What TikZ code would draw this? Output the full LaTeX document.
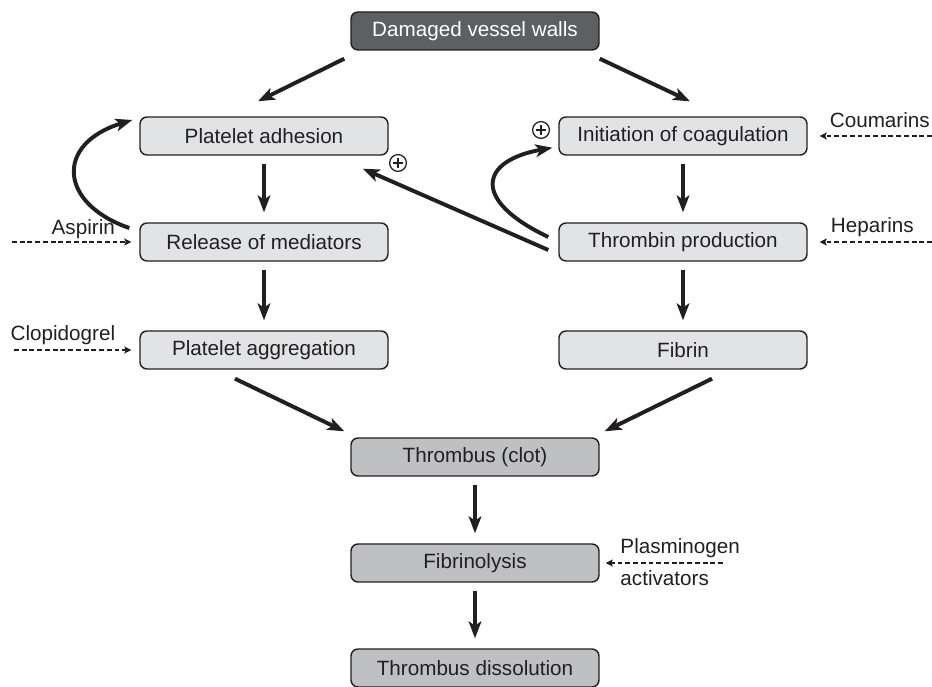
\documentclass[tikz,border=0pt]{standalone}
\usepackage{fontspec}
\setmainfont{Liberation Sans}
\usetikzlibrary{arrows.meta,calc}
\definecolor{clotdark}{HTML}{5E5F61}
\definecolor{clotlight}{HTML}{E2E3E4}
\definecolor{clotmid}{HTML}{BFC0C2}
\definecolor{clotink}{HTML}{231F20}

\begin{document}
\begin{tikzpicture}[
    font=\fontsize{14.7}{17}\selectfont,
    stage/.style={
        draw=clotink,
        fill=clotlight,
        text=clotink,
        rounded corners=5pt,
        minimum width=6.2cm,
        minimum height=0.95cm,
        line width=1pt
    },
    source/.style={stage,fill=clotdark,text=white},
    outcome/.style={stage,fill=clotmid},
    flow/.style={-{Stealth[length=12pt,width=9pt,inset=3pt]},line width=2.8pt,clotink},
    down/.style={flow,shorten <=0.2cm,shorten >=0.25cm},
    drug/.style={-{Stealth[length=5pt,width=5pt,inset=1pt]},line width=1.5pt,
        dash pattern=on 3.5pt off 2pt,clotink},
    druglabel/.style={inner sep=0pt,anchor=base,text=clotink},
    plus/.style={
        circle,
        draw=clotink,
        line width=0.9pt,
        minimum size=0.42cm,
        inner sep=0pt,
        path picture={
            \draw[clotink,line width=0.9pt]
                ([xshift=-0.13cm]path picture bounding box.center) -- ++(0.26,0)
                ([yshift=-0.13cm]path picture bounding box.center) -- ++(0,0.26);
        }
    }
]
\useasboundingbox (0,0) rectangle (23.3,17.15);

% Injury
\node[source] (damaged) at (11.875,16.375) {Damaged vessel walls};

% Platelet branch
\node[stage] (adhesion) at (6.6,13.75) {Platelet adhesion};
\node[stage] (release) at (6.6,11.1) {Release of mediators};
\node[stage] (aggregation) at (6.6,8.4) {Platelet aggregation};

% Coagulation branch
\node[stage] (init) at (17.075,13.75) {Initiation of coagulation};
\node[stage] (thrombin) at (17.075,11.1) {Thrombin production};
\node[stage] (fibrin) at (17.075,8.4) {Fibrin};

% Clot and its removal
\node[outcome] (clot) at (11.875,5.725) {Thrombus (clot)};
\node[outcome] (lysis) at (11.875,3.075) {Fibrinolysis};
\node[outcome] (dissolution) at (11.875,0.45) {Thrombus dissolution};

% Main flow
\draw[flow] ([shift={(-0.15,-0.2)}]damaged.south west) -- ([shift={(-0.15,0.375)}]adhesion.north);
\draw[flow] ([shift={(0,-0.2)}]damaged.south east) -- ([shift={(0.175,0.375)}]init.north);
\draw[down] (adhesion.south) -- (release.north);
\draw[down] (release.south) -- (aggregation.north);
\draw[down] (init.south) -- (thrombin.north);
\draw[down] (thrombin.south) -- (fibrin.north);
\draw[flow] ([shift={(-0.725,-0.225)}]aggregation.south) -- ([shift={(-0.15,0.15)}]clot.north west);
\draw[flow] ([shift={(0.725,-0.225)}]fibrin.south) -- ([shift={(0.125,0.15)}]clot.north east);
\draw[down] (clot.south) -- (lysis.north);
\draw[down] (lysis.south) -- (dissolution.north);

% Positive feedback
\draw[flow] ([shift={(-0.25,0.35)}]release.west)
    .. controls +(-1.75,0.6) and +(-1.95,-0.6) ..
    ([shift={(-0.175,0.4)}]adhesion.west);
\draw[flow] ([shift={(-0.25,0.125)}]thrombin.west)
    .. controls +(-1.95,0.925) and +(-1.8,-0.325) ..
    ([shift={(-0.15,0.2)}]init.south west);
\draw[flow] ([shift={(-0.25,-0.2)}]thrombin.west) -- ([shift={(-0.65,-0.325)}]adhesion.south east);
\node[plus] (plusA) at (9.95,13.075) {};
\node[plus] (plusB) at (13.525,13.9) {};

% Drugs
\coordinate (aspirin) at (0.3,11.1);
\coordinate (clopidogrel) at (0.35,8.4);
\coordinate (coumarins) at (23.3,13.75);
\coordinate (heparins) at (23.3,11.1);
\coordinate (plasmin) at (18.075,3.075);

\draw[drug,shorten >=0.2cm] (aspirin) -- (release.west)
    node[druglabel,pos=0.56,yshift=5pt] {Aspirin};
\draw[drug,shorten >=0.2cm] (clopidogrel) -- (aggregation.west)
    node[druglabel,pos=0.39,yshift=6.4pt] {Clopidogrel};
\draw[drug,shorten >=0.3cm] (coumarins) -- (init.east)
    node[druglabel,pos=0.42,yshift=5.7pt] {Coumarins};
\draw[drug,shorten >=0.3cm] (heparins) -- (thrombin.east)
    node[druglabel,pos=0.48,yshift=7pt] {Heparins};
\draw[drug,shorten >=0.15cm] (plasmin) -- (lysis.east)
    node[druglabel,anchor=base west,pos=0.84,yshift=7pt] {Plasminogen}
    node[druglabel,anchor=base west,pos=0.84,yshift=-16pt] {activators};

\end{tikzpicture}
\end{document}
